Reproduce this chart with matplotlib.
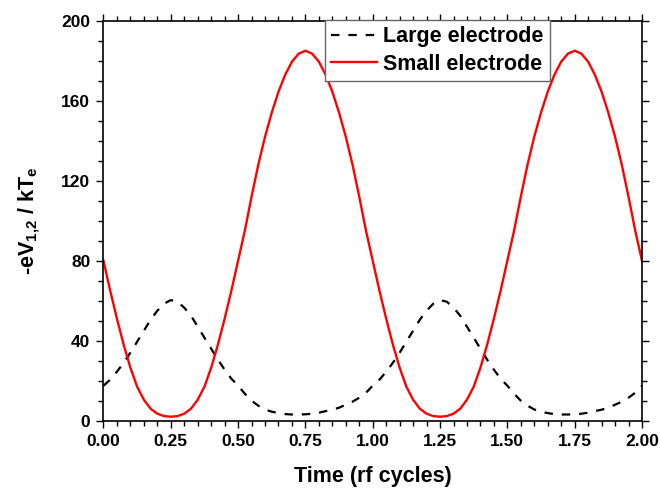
import numpy as np
import matplotlib
matplotlib.use("Agg")
import matplotlib.pyplot as plt
from matplotlib.ticker import MultipleLocator, FormatStrFormatter

plt.rcParams['font.family'] = ['Liberation Sans', 'DejaVu Sans']
plt.rcParams['font.weight'] = 'bold'
plt.rcParams['mathtext.fontset'] = 'custom'
plt.rcParams['mathtext.rm'] = 'Liberation Sans:bold'
plt.rcParams['mathtext.bf'] = 'Liberation Sans:bold'
plt.rcParams['mathtext.it'] = 'Liberation Sans:bold'

# Czas w cyklach rf (krok 0.025)
time = np.linspace(0, 2, 81)

# Elektroda duża (linia przerywana)
large = [17.5, 20.5, 24.5, 29, 34, 39.5, 45, 50.5, 55, 58.5, 60.3, 59.5, 56.5, 52.5, 47, 41.5,
         36, 30.5, 25.5, 21, 17.5, 13.5, 10, 7.5, 5.6, 4.5, 3.8, 3.3, 3.1, 3.1, 3.2, 3.5,
         4.0, 4.8, 5.5, 6.5, 8, 9.5, 11.5, 14,
         17.5, 20.5, 24.5, 29, 34, 39.5, 45, 50.5, 55, 58.5, 60.3, 59.5, 56.5, 52.5, 47, 41.5,
         36, 30.5, 25.5, 21, 17.5, 13.5, 10, 7.5, 5.6, 4.5, 3.8, 3.3, 3.1, 3.1, 3.2, 3.5,
         4.0, 4.8, 5.5, 6.5, 8, 9.5, 11.5, 14, 17.5]

# Elektroda mała (linia ciągła)
small = [80, 65, 51, 38, 26.5, 17, 10.5, 6, 3.5, 2.3, 2, 2.3, 3.5, 6, 10.5, 17, 26.5, 38, 51, 65,
         80, 95, 112, 128, 142, 154, 164.5, 173, 179.5, 183.5, 185, 183.5, 179.5, 173, 164.5, 154,
         142, 128, 112, 95,
         80, 65, 51, 38, 26.5, 17, 10.5, 6, 3.5, 2.3, 2, 2.3, 3.5, 6, 10.5, 17, 26.5, 38, 51, 65,
         80, 95, 112, 128, 142, 154, 164.5, 173, 179.5, 183.5, 185, 183.5, 179.5, 173, 164.5, 154,
         142, 128, 112, 95, 80]

fig = plt.figure(figsize=(6.6, 4.88), dpi=100)
ax = fig.add_axes([0.1568, 0.1379, 0.8159, 0.8197])

ax.plot(time, large, color='black', lw=1.6, linestyle=(0, (3.8, 4.0)),
        label='Large electrode', solid_joinstyle='round', dash_joinstyle='round')
ax.plot(time, small, color='#ff0000', lw=1.7, label='Small electrode',
        solid_joinstyle='round')

ax.set_xlim(0, 2)
ax.set_ylim(0, 200)
ax.xaxis.set_major_locator(MultipleLocator(0.25))
ax.xaxis.set_minor_locator(MultipleLocator(0.05))
ax.xaxis.set_major_formatter(FormatStrFormatter('%.2f'))
ax.yaxis.set_major_locator(MultipleLocator(40))
ax.yaxis.set_minor_locator(MultipleLocator(10))

ax.tick_params(which='both', direction='out', top=True, right=True, width=1.0)
ax.tick_params(which='major', length=5, labelsize=12.5, pad=4.5)
ax.tick_params(which='minor', length=3.3)
for s in ax.spines.values():
    s.set_linewidth(1.2)

ax.set_xlabel('Time (rf cycles)', fontsize=15.5, fontweight='bold', labelpad=12)
ax.set_ylabel(r'-eV$_{\mathbf{1{,}2}}$ / kT$_{\mathbf{e}}$', fontsize=15.5,
              fontweight='bold', labelpad=14)

leg = fig.legend(loc='upper left', bbox_to_anchor=(325 / 660, 1 - 20 / 488), borderaxespad=0,
                 prop={'weight': 'bold', 'size': 15.5}, fancybox=False,
                 edgecolor='#666666', framealpha=1, borderpad=0.3, labelspacing=0.3,
                 handlelength=2.1, handletextpad=0.3)
leg.get_frame().set_linewidth(1.0)

fig.savefig('out.png', dpi=100)
